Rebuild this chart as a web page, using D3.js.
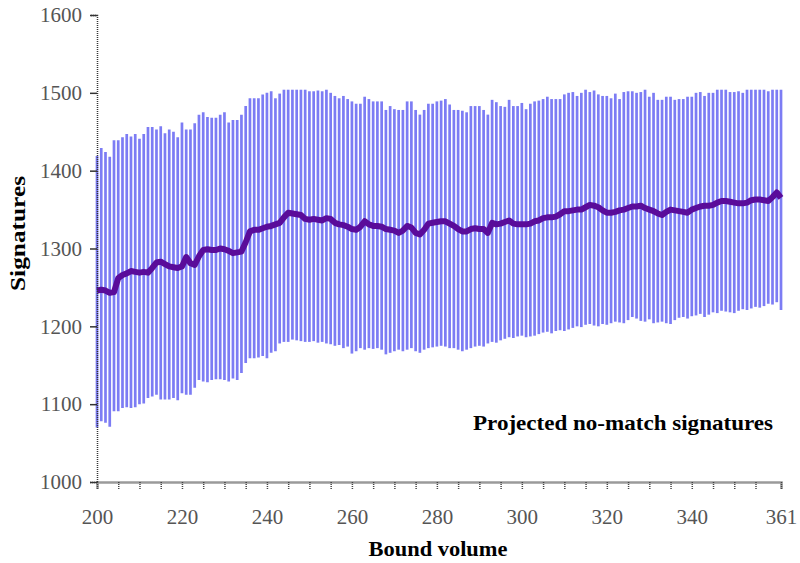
<!DOCTYPE html>
<html>
<head>
<meta charset="utf-8">
<script src="https://d3js.org/d3.v7.min.js"></script>
<style>
  body { margin: 0; background: #fff; }
  text { font-family: "Liberation Serif", "Times New Roman", serif; }
</style>
</head>
<body>
<div id="chart-area"></div>
<script>
// bound volume categories 200..361
var volumes = d3.range(200, 362);

var upper = [
  1419,1429,1424,1418,1439,1439,1443,1447,1444,1447,
  1441,1447,1456,1456,1453,1457,1448,1453,1450,1443,
  1462,1453,1453,1461,1472,1475,1469,1468,1468,1472,
  1475,1462,1465,1465,1472,1483,1493,1493,1493,1498,
  1500,1502,1493,1499,1504,1504,1504,1504,1504,1504,
  1502,1502,1503,1502,1504,1500,1496,1493,1496,1492,
  1489,1486,1486,1495,1492,1489,1489,1489,1478,1483,
  1479,1478,1478,1489,1489,1478,1472,1478,1486,1486,
  1489,1490,1492,1485,1478,1478,1477,1475,1483,1483,
  1483,1478,1472,1491,1488,1483,1482,1491,1483,1483,
  1487,1479,1486,1489,1490,1492,1495,1492,1492,1492,
  1498,1500,1501,1496,1500,1504,1501,1503,1498,1496,
  1496,1493,1499,1492,1501,1502,1502,1500,1501,1504,
  1495,1500,1491,1491,1495,1495,1491,1492,1492,1495,
  1495,1500,1501,1496,1500,1500,1504,1504,1504,1501,
  1501,1502,1500,1504,1504,1504,1504,1504,1502,1504,
  1504,1504
];

var lower = [
  1070,1078,1076,1071,1091,1091,1095,1096,1095,1096,
  1100,1101,1108,1110,1112,1106,1106,1106,1108,1105,
  1114,1112,1112,1121,1131,1129,1128,1131,1132,1132,
  1131,1129,1133,1131,1140,1153,1159,1159,1160,1162,
  1159,1166,1168,1178,1180,1180,1183,1182,1181,1180,
  1180,1181,1179,1180,1178,1177,1175,1176,1172,1174,
  1165,1168,1172,1170,1172,1171,1172,1170,1164,1166,
  1168,1170,1168,1170,1172,1168,1166,1170,1172,1173,
  1174,1175,1174,1172,1172,1170,1168,1170,1172,1174,
  1175,1174,1178,1180,1179,1182,1184,1186,1185,1187,
  1188,1186,1187,1188,1190,1192,1193,1191,1194,1195,
  1194,1196,1198,1200,1199,1202,1203,1201,1200,1203,
  1202,1204,1206,1205,1204,1208,1212,1210,1207,1206,
  1209,1204,1205,1206,1204,1203,1208,1211,1212,1210,
  1213,1214,1216,1212,1215,1218,1217,1220,1219,1218,
  1217,1220,1222,1221,1223,1225,1224,1226,1229,1228,
  1231,1221
];

var means = [
  1246,1247,1246,1243,1244,1262,1266,1268,1271,1270,
  1269,1270,1269,1275,1282,1283,1280,1277,1276,1275,
  1277,1289,1281,1279,1290,1298,1299,1298,1298,1300,
  1299,1297,1294,1295,1296,1308,1322,1324,1324,1326,
  1328,1329,1331,1333,1340,1346,1345,1344,1343,1338,
  1337,1338,1337,1336,1339,1338,1333,1331,1330,1328,
  1325,1324,1328,1335,1331,1329,1329,1328,1325,1324,
  1323,1320,1323,1329,1327,1320,1318,1324,1332,1333,
  1334,1335,1335,1332,1329,1325,1322,1322,1325,1326,
  1325,1325,1320,1333,1331,1332,1334,1336,1332,1331,
  1331,1331,1332,1335,1336,1339,1340,1340,1341,1344,
  1348,1348,1349,1350,1350,1353,1356,1355,1353,1349,
  1346,1346,1347,1349,1350,1352,1354,1354,1355,1352,
  1350,1348,1345,1343,1347,1350,1349,1348,1347,1346,
  1350,1352,1354,1355,1355,1356,1359,1361,1361,1360,
  1359,1358,1358,1359,1362,1363,1363,1362,1361,1366,
  1372,1365
];

var yTicks = [1000, 1100, 1200, 1300, 1400, 1500, 1600];
var xTickMarks = d3.range(200, 360, 5).concat([361]);
var xTickLabels = [200, 220, 240, 260, 280, 300, 320, 340, 361];

var margin = {top: 15, bottom: 81, right: 19, left: 97};
var width = 800 - margin.left - margin.right;
var height = 563 - margin.top - margin.bottom;

var svg = d3.select("#chart-area")
  .append("svg")
  .attr("width", 800)
  .attr("height", 563);

var g = svg.append("g")
  .attr("transform", "translate(" + margin.left + "," + margin.top + ")");

var x = d3.scaleLinear().domain([200, 361]).range([0, width]);
var y = d3.scaleLinear().domain([1000, 1600]).range([height, 0]);

var rows = volumes.map(function(v, i) {
  return {volume: v, low: lower[i], high: upper[i], mean: means[i]};
});

// error bars
g.append("g")
  .attr("class", "errorBars")
  .selectAll("line")
  .data(rows)
  .enter()
  .append("line")
  .attr("x1", function(d) { return x(d.volume); })
  .attr("x2", function(d) { return x(d.volume); })
  .attr("y1", function(d) { return y(d.low); })
  .attr("y2", function(d) { return y(d.high); })
  .attr("stroke", "#7c7cf4")
  .attr("stroke-width", 2.7);

// mean line
var line = d3.line()
  .x(function(d) { return x(d.volume); })
  .y(function(d) { return y(d.mean); });

g.append("path")
  .datum(rows)
  .attr("fill", "none")
  .attr("stroke", "#5a0c9a")
  .attr("stroke-width", 6)
  .attr("stroke-linejoin", "round")
  .attr("d", line);

// x axis
var xAxis = d3.axisBottom(x)
  .tickValues(xTickMarks)
  .tickSize(7)
  .tickPadding(20)
  .tickFormat(function(d) { return xTickLabels.indexOf(d) >= 0 ? d : ""; });

var xg = g.append("g")
  .attr("class", "xAxis")
  .attr("transform", "translate(0," + height + ")")
  .call(xAxis);
xg.select(".domain").attr("stroke", "#9a9a9a").attr("stroke-width", 2.5);
xg.selectAll(".tick line").attr("stroke", "#444").attr("stroke-dasharray", "1,1").attr("stroke-width", 1.5);
xg.selectAll(".tick text")
  .attr("font-size", "21px")
  .attr("fill", "#555")
  .style("font-family", "Liberation Serif");

// y axis
var yAxis = d3.axisLeft(y)
  .tickValues(yTicks)
  .tickSize(7)
  .tickPadding(8)
  .tickFormat(d3.format("d"));

var yg = g.append("g")
  .attr("class", "yAxis")
  .call(yAxis);
yg.select(".domain").attr("stroke", "#333").attr("stroke-width", 1.5).attr("stroke-dasharray", "1,1");
yg.selectAll(".tick line").attr("stroke", "#333").attr("stroke-width", 1.5);
yg.selectAll(".tick text")
  .attr("font-size", "21px")
  .attr("fill", "#555")
  .style("font-family", "Liberation Serif");

// labels
g.append("text")
  .attr("x", width / 2 - 1)
  .attr("y", height + 74)
  .attr("text-anchor", "middle")
  .attr("font-size", "22px")
  .attr("font-weight", "bold")
  .attr("textLength", 139)
  .attr("lengthAdjust", "spacingAndGlyphs")
  .text("Bound volume");

g.append("text")
  .attr("transform", "rotate(-90)")
  .attr("x", -(height / 2) + 15)
  .attr("y", -72)
  .attr("text-anchor", "middle")
  .attr("font-size", "22px")
  .attr("font-weight", "bold")
  .attr("textLength", 115)
  .attr("lengthAdjust", "spacingAndGlyphs")
  .text("Signatures");

g.append("text")
  .attr("x", 376)
  .attr("y", 415)
  .attr("font-size", "21px")
  .attr("font-weight", "bold")
  .attr("textLength", 300)
  .attr("lengthAdjust", "spacingAndGlyphs")
  .text("Projected no-match signatures");
</script>
</body>
</html>
